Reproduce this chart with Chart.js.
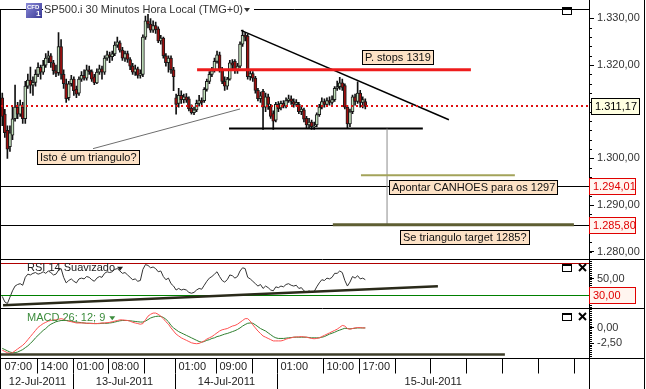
<!DOCTYPE html>
<html><head><meta charset="utf-8"><title>SP500.i 30 Minutos</title>
<script src="https://cdn.jsdelivr.net/npm/chart.js@4.4.1/dist/chart.umd.min.js"></script>
<style>html,body{margin:0;padding:0;background:#fff;overflow:hidden}canvas{display:block}</style>
</head><body>
<canvas id="c" width="646" height="389" style="width:646px;height:389px"></canvas>
<script>
const FONT = '"Liberation Sans", Arial, sans-serif';

// ---- categories (30-minute bars) ----
const sessions = [
  ['12-Jul-2011', 7, 28],
  ['13-Jul-2011', 1, 40],
  ['14-Jul-2011', 1, 40],
  ['15-Jul-2011', 1, 122]
];
const categories = [];
sessions.forEach(([d, h0, n]) => {
  for (let k = 0; k < n; k++) {
    const m = h0 * 60 + k * 30;
    categories.push(d + ' ' + String(Math.floor(m / 60)).padStart(2, '0') + ':' + String(m % 60).padStart(2, '0'));
  }
});

// ---- price candles ----
const opens = [1313,1309.5,1306,1302.5,1305,1308.5,1311,1309.5,1311,1308.5,
1315.5,1316.8,1315.7,1316.3,1318,1319.5,1318.5,1320,1321.5,1322,
1320.5,1318.8,1318.4,1324,1318,1316,1313,1316,1317,1314.8,
1314,1317,1317.8,1317.2,1319,1318.6,1317.5,1316.2,1318.5,1319.2,
1318.5,1321.5,1322.2,1321.8,1322.4,1324.3,1324.8,1323.2,1321.5,1322.5,
1321.2,1319.8,1318.5,1319.2,1317.8,1318,1326,1329.5,1328.8,1327.5,
1328.5,1327.8,1325.2,1325.8,1322,1320.5,1321.5,1319,1313,1311.8,
1313.5,1312.6,1313.2,1312.8,1310.8,1309.8,1310.4,1311.8,1312.4,1312.4,
1314.8,1316.5,1318,1318.8,1320.8,1322.2,1319,1316.5,1315.5,1317,
1320.5,1320.8,1318.8,1319.8,1324.5,1326.4,1326.2,1317.5,1318.2,1317.2,
1314.6,1312.8,1314.4,1311,1313.2,1311.2,1309.6,1308.2,1311.6,1310.8,
1311.8,1311.2,1312.4,1312.8,1312.2,1311.6,1311.6,1310,1310.4,1308.6,
1307.2,1307.8,1306.8,1307.2,1309.4,1311,1312.2,1311.6,1312.4,1312,
1312.6,1315,1315.4,1316.2,1315.6,1311,1307.4,1310,1313.2,1312.2,
1314,1312,1312.2];
const highs = [1314,1310.5,1307,1307,1311,1315.7,1312,1312.5,1312,1316.5,
1318.1,1319.6,1317.5,1319,1320.5,1320,1321,1322.5,1323,1322.5,
1321,1320,1327,1325.5,1319,1317,1316.5,1317.8,1317.5,1315.5,
1317.5,1318.6,1319,1320,1319.8,1319,1318,1319.2,1320,1319.8,
1322,1323,1322.8,1323,1325,1326,1325.2,1323.8,1323,1323,
1321.6,1320.4,1320,1319.6,1319,1326.5,1330.5,1331,1330,1329.5,
1329.2,1328.2,1326.4,1326,1322.5,1322,1322,1319.5,1313.8,1315,
1314.5,1313.8,1313.9,1313.2,1311.5,1311,1312.5,1313.5,1313,1315.2,
1317,1318.6,1319.5,1321.5,1323,1322.8,1319.5,1317.5,1317.4,1321,
1321.2,1321.2,1320.4,1325,1327.5,1327,1326.6,1319,1318.6,1317.6,
1315,1314.2,1314.8,1314,1313.8,1311.6,1310.2,1312,1312.2,1312.3,
1312.4,1313,1313.6,1313.4,1312.8,1312.6,1312,1311.2,1310.8,1309,
1308.6,1308.2,1307.8,1309.8,1311.6,1313,1312.8,1313,1313.2,1313.4,
1315.4,1316.6,1317.4,1317,1316,1311.4,1310.6,1313.6,1313.8,1316.4,
1314.6,1313.2,1312.8];
const lows = [1307,1304.5,1300,1301.5,1304,1308,1308.5,1309,1307.5,1307.5,
1315,1314,1313.5,1315.5,1317.5,1317,1318,1319.5,1320.5,1319.5,
1318,1317.5,1317.8,1317,1315,1312,1312.5,1315.5,1313.5,1313,
1313.5,1316.5,1316.8,1316.8,1318,1316.5,1315.8,1316,1318,1317,
1318,1321,1320.5,1321,1322,1323.8,1322.8,1321,1320.8,1320.6,
1319,1318,1317.8,1317.2,1317.2,1317.5,1325.5,1328,1327,1327,
1326.8,1324.8,1324.5,1321.5,1319.8,1318.5,1318.2,1314.5,1309.5,1311,
1311.8,1311.9,1312,1310.2,1309.5,1309.4,1310,1311.2,1311.2,1312,
1314.4,1316,1317.5,1318.5,1320.4,1318.5,1316,1314.6,1314.8,1316.8,
1319.2,1318.2,1318.2,1319.4,1324,1325.2,1317,1316.8,1316.5,1314,
1312.3,1312,1306.2,1310,1310.5,1308.6,1306.2,1307.8,1310,1310.4,
1310.8,1310.8,1312,1311.6,1311,1311.2,1309.6,1309.4,1307.8,1306.6,
1306.4,1306.2,1306.2,1306.8,1309,1310.6,1311,1311.2,1311.4,1311.6,
1312.2,1314.6,1314.8,1314.6,1310.6,1306.4,1306.8,1309.6,1311.4,1311.8,
1311,1310.8,1310.6];
const closes = [1309,1305.5,1302,1305.5,1308.5,1311,1309.5,1311.5,1308.5,1315.5,
1316.8,1315.7,1316.3,1318,1319.5,1318.5,1320,1321.5,1322,1320.5,
1318.8,1318.2,1324,1318,1316,1312.8,1316,1317,1314.5,1313.8,
1317,1317.8,1317.2,1319,1318.6,1317,1316.2,1318.5,1319.2,1318.5,
1321.5,1322.2,1321.8,1322.4,1324.3,1325,1323.2,1321.5,1322.5,1321.2,
1319.8,1318.5,1319.2,1317.8,1318.2,1326,1329.5,1328.8,1327.5,1328.5,
1327.6,1325.2,1325.8,1322,1320.5,1321.5,1319,1317.5,1311.6,1313.5,
1312.6,1313.2,1312.5,1310.6,1309.8,1310.4,1311.8,1312.4,1312,1314.8,
1316.5,1318,1318.8,1320.8,1322.2,1319,1316.5,1315.5,1317,1320.5,
1320,1318.8,1319.8,1324.5,1326.4,1326,1317.5,1318.2,1317.2,1314.6,
1312.8,1313.4,1311,1313.2,1311.6,1309,1308,1311.6,1310.6,1311.8,
1311.2,1312.4,1312.8,1312.2,1311.6,1312,1310,1310.6,1308.4,1307.2,
1307.8,1306.8,1307,1309.4,1311,1312.2,1311.6,1312.4,1312,1312.6,
1315,1315.4,1316.2,1315.2,1311,1307.4,1310,1313.2,1312.2,1314,
1312,1312.6,1311.17];

// ---- RSI 14 smoothed ----
const rsi = [28,21,19,27,35,41,43,44,42,52,
56,55,57,58,56,57,59,57,60,58,
55,56,61,63,52,45,48,50,47,45,
50,51,50,53,52,49,47,51,53,52,
57,59,58,59,62,63,60,57,58,55,
52,49,50,47,48,62,68,67,64,65,
63,59,60,53,49,51,44,41,36,38,
36,37,36,33,32,33,36,38,37,42,
47,51,53,56,59,53,48,46,49,55,
54,51,53,60,64,63,52,50,47,44,
41,43,38,41,39,36,35,40,39,41,
40,43,44,42,41,42,38,39,35,33,
35,33,34,40,45,49,48,51,50,52,
57,57,60,58,48,41,46,53,51,54,
50,51,49];

// ---- MACD 26;12;9 ----
const macd = [-3.6,-3.8,-4.0,-4.1,-4.0,-3.7,-3.4,-3.1,-2.8,-2.4,
-1.9,-1.4,-0.9,-0.4,0.1,0.4,0.7,0.9,1.1,1.2,
1.3,1.3,1.4,1.5,1.4,1.2,1.1,1.0,0.9,0.8,
0.8,0.8,0.8,0.75,0.75,0.7,0.7,0.7,0.75,0.8,
0.8,0.85,0.9,1.0,1.1,1.2,1.3,1.3,1.25,1.2,
1.1,0.9,0.8,0.7,0.6,0.7,1.3,1.9,2.2,2.4,
2.4,2.2,1.9,1.5,1.0,0.6,0.0,-0.5,-1.0,-1.3,
-1.6,-1.8,-2.0,-2.2,-2.4,-2.5,-2.55,-2.5,-2.3,-2.1,
-1.8,-1.6,-1.4,-1.1,-0.8,-0.5,-0.3,-0.2,-0.1,0.1,
0.3,0.4,0.6,0.9,1.2,1.5,1.5,1.1,0.5,0.0,
-0.5,-0.9,-1.3,-1.5,-1.7,-1.9,-2.1,-2.1,-2.1,-2.1,
-2.0,-1.8,-1.7,-1.6,-1.5,-1.45,-1.45,-1.4,-1.45,-1.5,
-1.6,-1.7,-1.75,-1.7,-1.6,-1.4,-1.2,-1.0,-0.8,-0.6,
-0.4,-0.2,0.1,0.4,0.3,-0.1,-0.2,-0.1,0.0,0.05,
0.05,0.0,0.0];
const signal = [-3.3,-3.5,-3.7,-3.9,-4.0,-4.0,-3.9,-3.7,-3.5,-3.2,
-2.9,-2.5,-2.1,-1.6,-1.2,-0.8,-0.4,-0.1,0.3,0.6,
0.8,1.0,1.1,1.2,1.2,1.2,1.15,1.1,1.0,0.95,
0.9,0.85,0.8,0.75,0.75,0.75,0.7,0.7,0.7,0.75,
0.75,0.75,0.8,0.85,0.95,1.05,1.15,1.2,1.2,1.2,
1.15,1.1,1.05,1.0,0.95,0.95,1.1,1.35,1.6,1.75,
1.85,1.9,1.85,1.7,1.4,1.0,0.4,0.0,-0.3,-0.6,
-0.8,-1.0,-1.2,-1.4,-1.6,-1.8,-2.0,-2.2,-2.3,-2.2,
-2.0,-1.9,-1.7,-1.6,-1.4,-1.3,-1.15,-1.0,-0.9,-0.75,
-0.6,-0.45,-0.25,0.0,0.3,0.55,0.75,0.8,0.75,0.5,
0.2,-0.1,-0.3,-0.5,-0.8,-1.1,-1.4,-1.6,-1.7,-1.7,
-1.7,-1.65,-1.6,-1.55,-1.5,-1.5,-1.5,-1.5,-1.5,-1.5,
-1.55,-1.6,-1.6,-1.6,-1.6,-1.5,-1.4,-1.2,-1.0,-0.85,
-0.7,-0.5,-0.35,-0.2,-0.05,-0.1,-0.15,-0.1,-0.05,0.0,
0.0,0.0,0.0];

// ---- axis ticks & levels ----
const priceTicks = [1280, 1290, 1300, 1320, 1330];
const rsiTicks = [50];
const macdTicks = [0, -2.5];
const lastPrice = 1311.17;
const alertLevels = [1294.01, 1285.80];
const rsiUpper = 70, rsiLower = 30;
const timeTickBars = [0,14,28,42,56,68,84,98,108,126,140,154,168,182,196,210,224];
const timeTickLabels = ['07:00','14:00','01:00','08:00','','01:00','09:00','','01:00','10:00','17:00','','','','','',''];
const dateTickBars = [0,28,68,108];
const dateTickLabels = ['12-Jul-2011','13-Jul-2011','14-Jul-2011','15-Jul-2011'];

// ---- drawn studies (bar index, value) ----
const trendLines = [
  {scale:'y', a:[93.4,1327.45], b:[174.7,1308.3], color:'#000', width:1.5},
  {scale:'y', a:[76.2,1319], b:[183.3,1319], color:'#ee1c1c', width:3},
  {scale:'y', a:[88.7,1306.4], b:[164.5,1306.4], color:'#000', width:2},
  {scale:'y', a:[35.5,1302.1], b:[93.0,1310.6], color:'#6e6e6e', width:1},
  {scale:'y', a:[150.5,1306.4], b:[150.5,1285.8], color:'#8c8c8c', width:1},
  {scale:'y', a:[140.3,1296.4], b:[200.5,1296.4], color:'#a3a35a', width:2},
  {scale:'y', a:[129.3,1285.8], b:[223.6,1285.8], color:'#5e5e33', width:3},
  {scale:'yRsi', a:[0.3,16.9], b:[170.4,40.75], color:'#2a2a1a', width:2.5},
  {scale:'yMacd', a:[-0.5,-4.3], b:[196.6,-4.3], color:'#3c3c28', width:2.5}
];
const notes = [
  {text:'Isto é um triangulo?', i:13.6, v:1300.4},
  {text:'P. stops 1319', i:140.7, v:1321.7},
  {text:'Apontar CANHOES para os 1297', i:151.2, v:1293.8},
  {text:'Se triangulo target 1285?', i:155.5, v:1283.1}
];

function fmt(v) {
  const s = Math.abs(v).toFixed(2).split('.');
  return (v < 0 ? '-' : '') + s[0].replace(/\B(?=(\d{3})+(?!\d))/g, '.') + ',' + s[1];
}

const deco = {
  id: 'deco',
  afterDatasetsDraw(chart) {
    const {ctx, chartArea: ca, scales: S} = chart;
    const X = S.x;
    ctx.save();
    ctx.beginPath(); ctx.rect(ca.left, ca.top, ca.right - ca.left, ca.bottom - ca.top); ctx.clip();
    const hl = (s, v, color, w, dash) => {
      const y = s.getPixelForValue(v);
      const yy = (w % 2) ? Math.round(y) + 0.5 : Math.round(y);
      ctx.beginPath(); ctx.setLineDash(dash || []); ctx.strokeStyle = color; ctx.lineWidth = w;
      ctx.moveTo(ca.left, yy); ctx.lineTo(ca.right, yy); ctx.stroke(); ctx.setLineDash([]);
    };
    hl(S.yRsi, rsiUpper, '#b00000', 1);
    hl(S.yRsi, rsiLower, '#008000', 1);
    alertLevels.forEach(v => hl(S.y, v, '#000', 1));
    trendLines.forEach(t => {
      const s = S[t.scale];
      ctx.beginPath(); ctx.strokeStyle = t.color; ctx.lineWidth = t.width;
      ctx.moveTo(X.getPixelForValue(t.a[0]), s.getPixelForValue(t.a[1]));
      ctx.lineTo(X.getPixelForValue(t.b[0]), s.getPixelForValue(t.b[1]));
      ctx.stroke();
    });
    hl(S.y, lastPrice, '#e01010', 2, [2, 3]);
    ctx.font = '11px ' + FONT; ctx.textBaseline = 'middle'; ctx.textAlign = 'left';
    notes.forEach(n => {
      const x = Math.round(X.getPixelForValue(n.i)) + 0.5;
      const yc = S.y.getPixelForValue(n.v);
      const w = Math.round(ctx.measureText(n.text).width + 5);
      const y0 = Math.round(yc - 7) + 0.5;
      ctx.fillStyle = '#fde2c6'; ctx.fillRect(x, y0, w, 14);
      ctx.strokeStyle = '#000'; ctx.lineWidth = 1; ctx.strokeRect(x, y0, w, 14);
      ctx.fillStyle = '#111'; ctx.fillText(n.text, x + 2.5, y0 + 7.5);
    });
    ctx.restore();
  },
  afterDraw(chart) {
    const {ctx, chartArea: ca, scales: S} = chart;
    const X = S.x, Y = S.y, R = S.yRsi, M = S.yMacd;
    const W = chart.width, H = chart.height;
    const axL = Math.round(Y.left);
    const seg = (x1, y1, x2, y2, c, w) => { ctx.beginPath(); ctx.strokeStyle = c || '#000'; ctx.lineWidth = w || 1; ctx.moveTo(x1, y1); ctx.lineTo(x2, y2); ctx.stroke(); };
    ctx.save();
    // minor ticks
    [[Y, 2], [R, 2.5], [M, 0.3]].forEach(([s, st]) => {
      ctx.beginPath(); ctx.strokeStyle = '#000'; ctx.lineWidth = 1;
      for (let k = Math.ceil(s.min / st); k * st <= s.max; k++) {
        const yy = Math.round(s.getPixelForValue(k * st)) + 0.5;
        ctx.moveTo(axL, yy); ctx.lineTo(axL + 3, yy);
      }
      ctx.stroke();
    });
    // frames
    const top = Math.round(ca.top) - 0.5;
    seg(0.5, top, 0.5, H);
    seg(0, top, axL + 0.5, top);
    seg(axL + 0.5, 0, axL + 0.5, H);
    seg(W - 1.5, 0, W - 1.5, H);
    [R.top, M.top, ca.bottom].forEach(y => seg(0, Math.round(y) + 0.5, W - 1, Math.round(y) + 0.5));
    // axis value tags
    ctx.font = '11px ' + FONT; ctx.textBaseline = 'middle'; ctx.textAlign = 'left';
    const tag = (s, v, txt, border, fill, color, x0, w) => {
      const yc = Math.round(s.getPixelForValue(v));
      ctx.fillStyle = fill; ctx.fillRect(x0 + 0.5, yc - 7.5, w, 16);
      ctx.strokeStyle = border; ctx.lineWidth = 1; ctx.strokeRect(x0 + 0.5, yc - 7.5, w, 16);
      ctx.fillStyle = color; ctx.fillText(txt, x0 + 4, yc + 0.5);
    };
    tag(Y, lastPrice, fmt(lastPrice), '#000', '#ffffe1', '#000', axL + 2, 48);
    alertLevels.forEach(v => tag(Y, v, fmt(v), '#e00000', '#fff5ef', '#e00000', axL, 46));
    tag(R, rsiLower, fmt(rsiLower), '#e00000', '#fff5ef', '#e00000', axL, 46);
    // pane labels
    const tri = (x, y) => { ctx.beginPath(); ctx.moveTo(x, y - 2); ctx.lineTo(x + 6, y - 2); ctx.lineTo(x + 3, y + 2); ctx.closePath(); ctx.fill(); };
    ctx.fillStyle = '#222';
    const t1 = 'RSI 14 Suavizado';
    ctx.fillText(t1, 27, R.top + 9.5); tri(27 + ctx.measureText(t1).width + 2, R.top + 10);
    ctx.fillStyle = '#3c8c3c';
    const t2 = 'MACD 26; 12; 9';
    ctx.fillText(t2, 27, M.top + 9.5); tri(27 + ctx.measureText(t2).width + 4, M.top + 10);
    // pane buttons
    const winBtn = (x, y) => { ctx.strokeStyle = '#000'; ctx.lineWidth = 1; ctx.strokeRect(x + 0.5, y + 0.5, 9, 7); ctx.fillStyle = '#000'; ctx.fillRect(x, y, 10, 2); };
    const xBtn = (x, y) => { seg(x, y, x + 7, y + 7, '#000', 2); seg(x + 7, y, x, y + 7, '#000', 2); };
    winBtn(562, Math.round(ca.top) - 3);
    winBtn(562, Math.round(R.top) + 5); xBtn(579, Math.round(R.top) + 5);
    winBtn(562, Math.round(M.top) + 5); xBtn(579, Math.round(M.top) + 5);
    // title
    const title = 'SP500.i 30 Minutos Hora Local (TMG+0)';
    const tw = ctx.measureText(title).width;
    ctx.fillStyle = '#fff'; ctx.fillRect(43, 2, tw + 12, 12);
    ctx.fillStyle = '#333'; ctx.fillText(title, 44, 10);
    tri(44 + tw + 1, 10);
    const g = ctx.createLinearGradient(26, 3, 42, 17);
    g.addColorStop(0, '#8a8ad8'); g.addColorStop(1, '#3a3a96');
    ctx.fillStyle = g; ctx.fillRect(26, 3, 16, 15);
    ctx.fillStyle = '#fff'; ctx.font = 'bold 6px ' + FONT; ctx.fillText('CFD', 27, 7.5);
    ctx.font = 'bold 8px ' + FONT; ctx.fillText('1', 36, 13.5);
    // time axis
    ctx.font = '11px ' + FONT; ctx.fillStyle = '#222';
    const r1t = Math.round(ca.bottom) + 0.5, r1b = r1t + 15;
    timeTickBars.forEach((b, i) => {
      const xx = Math.round(X.getPixelForValue(b - 0.5)) + 0.5;
      if (i > 0) seg(xx, r1t, xx, r1b);
      ctx.fillStyle = '#222'; ctx.fillText(timeTickLabels[i], xx + 3, r1t + 8);
    });
    ctx.textAlign = 'center';
    dateTickBars.forEach((b, i) => {
      const xs = Math.round(X.getPixelForValue(b - 0.5)) + 0.5;
      const xe = i + 1 < dateTickBars.length ? Math.round(X.getPixelForValue(dateTickBars[i + 1] - 0.5)) + 0.5 : axL;
      if (i > 0) seg(xs, r1b, xs, H);
      ctx.fillStyle = '#222'; ctx.fillText(dateTickLabels[i], (xs + xe) / 2, r1b + 8.5);
    });
    ctx.restore();
  }
};

const axisCommon = (ticksArr) => ({
  type: 'linear', position: 'right', stack: 'panes',
  afterFit: s => { s.width = 57; },
  afterBuildTicks: s => { s.ticks = ticksArr.map(v => ({value: v})); },
  ticks: {callback: v => fmt(v), font: {family: FONT, size: 11}, color: '#333', padding: 3, autoSkip: false},
  grid: {drawOnChartArea: false, drawTicks: true, tickLength: 5, color: '#000'},
  border: {display: true, color: '#000'}
});

new Chart(document.getElementById('c'), {
  type: 'bar',
  data: {
    labels: categories,
    datasets: [
      {type: 'bar', label: 'wick', yAxisID: 'y', data: lows.map((l, i) => [l, highs[i]]),
       backgroundColor: '#111', borderWidth: 0, barThickness: 1, grouped: false, order: 3},
      {type: 'bar', label: 'body', yAxisID: 'y', data: opens.map((o, i) => [o, closes[i]]),
       backgroundColor: opens.map((o, i) => closes[i] >= o ? '#c3e2bd' : '#a00f0f'),
       borderColor: '#1a1a1a', borderWidth: 1, borderSkipped: false, barThickness: 3, grouped: false, order: 2},
      {type: 'line', label: 'RSI', yAxisID: 'yRsi', data: rsi, borderColor: '#333', borderWidth: 1, pointRadius: 0, tension: 0, order: 1},
      {type: 'line', label: 'MACD', yAxisID: 'yMacd', data: macd, borderColor: '#ff5050', borderWidth: 1, pointRadius: 0, tension: 0, order: 1},
      {type: 'line', label: 'Sinal', yAxisID: 'yMacd', data: signal, borderColor: '#2f7f2f', borderWidth: 1, pointRadius: 0, tension: 0, order: 1}
    ]
  },
  options: {
    responsive: false, animation: false, events: [],
    layout: {padding: {left: 1, right: 0, top: 7, bottom: 31}},
    plugins: {legend: {display: false}, tooltip: {enabled: false}},
    scales: {
      x: {type: 'category', offset: true, display: false, grid: {display: false}},
      y: Object.assign(axisCommon(priceTicks), {stackWeight: 251, weight: 1, min: 1278.5, max: 1331.9}),
      yRsi: Object.assign(axisCommon(rsiTicks), {stackWeight: 50, weight: 2, min: 12.9, max: 75.4}),
      yMacd: Object.assign(axisCommon(macdTicks), {stackWeight: 50, weight: 3, min: -4.86, max: 3.16})
    }
  },
  plugins: [deco]
});
</script>
</body></html>
